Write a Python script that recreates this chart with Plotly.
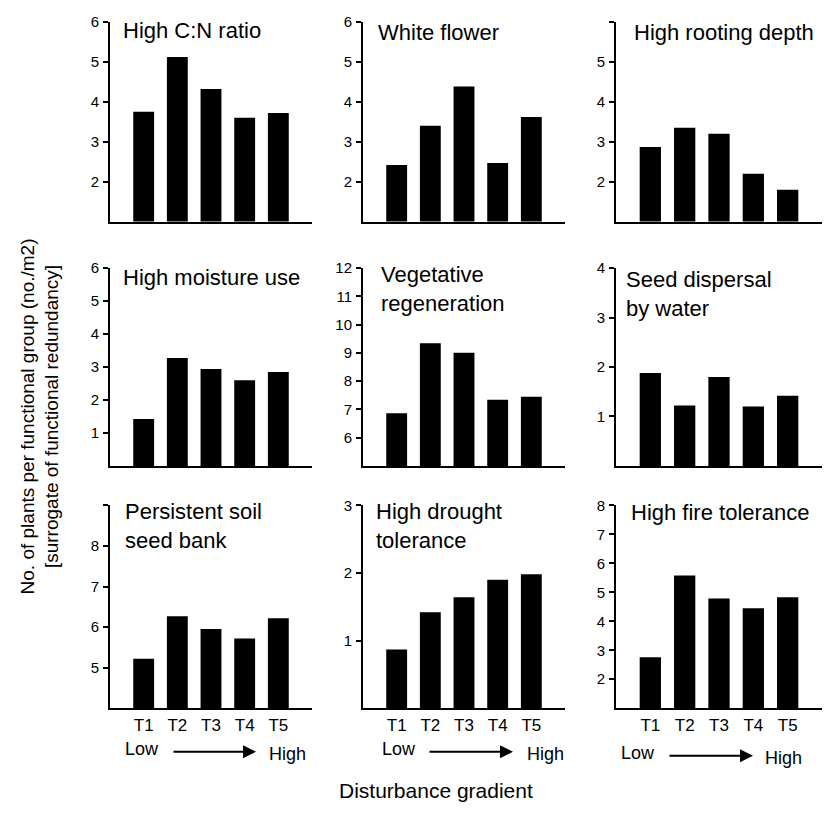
import plotly.graph_objects as go

W, H = 826, 813

categories = ["T1", "T2", "T3", "T4", "T5"]
panel_titles = [
    "High C:N ratio", "White flower", "High rooting depth",
    "High moisture use", "Vegetative<br>regeneration", "Seed dispersal<br>by water",
    "Persistent soil<br>seed bank", "High drought<br>tolerance", "High fire tolerance",
]
cn_ratio = [3.75, 5.12, 4.32, 3.60, 3.72]
white_flower = [2.42, 3.40, 4.38, 2.47, 3.62]
rooting_depth = [2.87, 3.35, 3.20, 2.20, 1.80]
moisture_use = [1.42, 3.27, 2.94, 2.60, 2.85]
vegetative_regen = [6.86, 9.34, 9.00, 7.34, 7.45]
seed_water = [1.88, 1.22, 1.80, 1.20, 1.42]
seed_bank = [5.22, 6.27, 5.95, 5.72, 6.22]
drought_tol = [0.87, 1.42, 1.64, 1.90, 1.98]
fire_tol = [2.76, 5.58, 4.79, 4.45, 4.83]
series = [cn_ratio, white_flower, rooting_depth, moisture_use, vegetative_regen,
          seed_water, seed_bank, drought_tol, fire_tol]

y_ranges = [[1, 6], [1, 6], [1, 6], [0, 6], [5, 12], [0, 4], [4, 9], [0, 3], [1, 8]]
y_tickvals = [[2, 3, 4, 5, 6], [2, 3, 4, 5, 6], [2, 3, 4, 5, 6], [1, 2, 3, 4, 5, 6],
              [6, 7, 8, 9, 10, 11, 12], [1, 2, 3, 4], [5, 6, 7, 8, 9], [1, 2, 3],
              [2, 3, 4, 5, 6, 7, 8]]
y_ticktext = [["2", "3", "4", "5", "6"], ["2", "3", "4", "5", "6"], ["2", "3", "4", "5", ""],
              ["1", "2", "3", "4", "5", "6"], ["6", "7", "8", "9", "10", "11", "12"],
              ["1", "2", "3", "4"], ["5", "6", "7", "8", ""], ["1", "2", "3"],
              ["2", "3", "4", "5", "6", "7", "8"]]

# layout in pixels
cols_px = [(110, 312), (363, 565), (616, 822)]
rows_px = [(13, 215), (262, 462), (502, 707)]
title_pos_px = [(121, 22), (376, 24), (632, 24),
                (121, 272), (379, 283), (624, 288),
                (123, 523), (374, 523), (629, 509)]

def px_x(x):
    return x / W

def px_y(y):
    return 1 - y / H

FONT = "Liberation Sans, Arial, Helvetica, sans-serif"

fig = go.Figure()
layout = dict(
    width=W, height=H, margin=dict(l=0, r=0, t=0, b=0),
    paper_bgcolor="white", plot_bgcolor="white", showlegend=False,
    font=dict(family=FONT, color="black"),
)
annotations = []

for i in range(9):
    r, c = divmod(i, 3)
    n = "" if i == 0 else str(i + 1)
    fig.add_trace(go.Bar(
        x=categories, y=series[i], xaxis="x" + n, yaxis="y" + n,
        marker=dict(color="black", line=dict(width=0)), width=0.62,
    ))
    x0, x1 = cols_px[c]
    ytop, ybot = rows_px[r]
    layout["xaxis" + n] = dict(
        domain=[px_x(x0), px_x(x1)], anchor="y" + n, range=[-1, 5],
        type="category", showgrid=False, zeroline=False,
        showline=True, linecolor="black", linewidth=2,
        ticks="", showticklabels=(r == 2),
        tickfont=dict(size=17, family=FONT), ticklabelstandoff=0,
    )
    layout["yaxis" + n] = dict(
        domain=[px_y(ybot), px_y(ytop)], anchor="x" + n, range=y_ranges[i],
        showgrid=False, zeroline=False, showline=True, linecolor="black", linewidth=2,
        ticks="outside", ticklen=5, tickwidth=2, tickcolor="black",
        tickvals=y_tickvals[i], ticktext=y_ticktext[i],
        tickfont=dict(size=15, family=FONT), ticklabelstandoff=1,
    )
    tx, ty = title_pos_px[i]
    annotations.append(dict(
        text=panel_titles[i], xref="paper", yref="paper",
        x=px_x(tx), y=px_y(ty), xanchor="left", yanchor="middle", align="left",
        showarrow=False, font=dict(size=22, family=FONT, color="black"),
    ))

# Low -> High gradient labels under each column
low_high_px = [(123, 172, 256, 267, 750), (380, 428, 513, 525, 750), (619, 668, 753, 763, 754)]
for lx, ax0, ax1, hx, yy in low_high_px:
    annotations.append(dict(text="Low", xref="paper", yref="paper", x=px_x(lx), y=px_y(yy - 2),
                            xanchor="left", yanchor="middle", showarrow=False,
                            font=dict(size=18, family=FONT)))
    annotations.append(dict(text="High", xref="paper", yref="paper", x=px_x(hx), y=px_y(yy + 3),
                            xanchor="left", yanchor="middle", showarrow=False,
                            font=dict(size=18, family=FONT)))
    annotations.append(dict(text="", xref="paper", yref="paper", x=px_x(ax1), y=px_y(yy + 1),
                            ax=-(ax1 - ax0), ay=0, showarrow=True, arrowhead=2,
                            arrowsize=1.3, arrowwidth=2, arrowcolor="black"))

annotations.append(dict(text="Disturbance gradient", xref="paper", yref="paper",
                        x=px_x(436), y=px_y(790), xanchor="center", yanchor="middle",
                        showarrow=False, font=dict(size=21, family=FONT)))
annotations.append(dict(text="No. of plants per functional group (no./m2)<br>[surrogate of functional redundancy]",
                        xref="paper", yref="paper", x=px_x(40), y=px_y(412),
                        xanchor="center", yanchor="middle", textangle=-90,
                        showarrow=False, font=dict(size=19, family=FONT)))

layout["annotations"] = annotations
fig.update_layout(**layout)
fig.write_html("out.html")
